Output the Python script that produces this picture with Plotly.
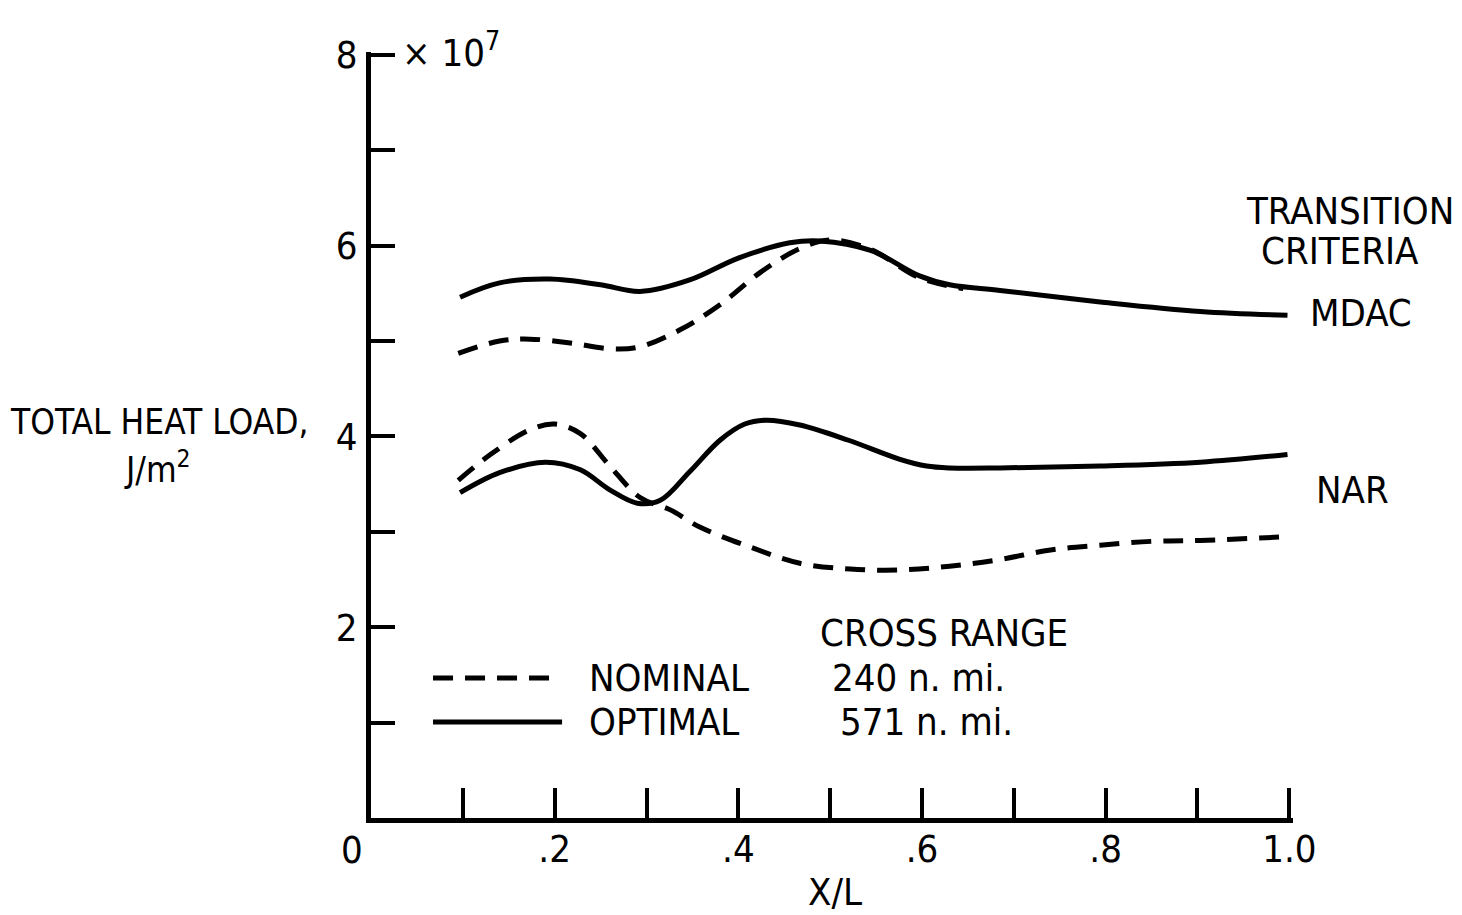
import plotly.graph_objects as go

# Values in units of 1e7 J/m^2
x_mdac_opt = [0.097, 0.14, 0.195, 0.25, 0.293, 0.347, 0.40, 0.456, 0.489, 0.544, 0.598, 0.63, 0.685, 0.794, 0.903, 0.998]
y_mdac_opt = [5.46, 5.61, 5.65, 5.59, 5.52, 5.64, 5.87, 6.03, 6.05, 5.95, 5.68, 5.59, 5.53, 5.41, 5.31, 5.27]

x_mdac_nom = [0.095, 0.14, 0.173, 0.217, 0.26, 0.293, 0.337, 0.38, 0.424, 0.467, 0.50, 0.544, 0.598, 0.645]
y_mdac_nom = [4.87, 5.00, 5.02, 4.98, 4.92, 4.94, 5.12, 5.38, 5.72, 5.97, 6.06, 5.96, 5.66, 5.55]

x_nar_opt = [0.097, 0.14, 0.19, 0.228, 0.26, 0.29, 0.315, 0.347, 0.38, 0.407, 0.43, 0.467, 0.52, 0.576, 0.605, 0.63, 0.685, 0.794, 0.903, 0.998]
y_nar_opt = [3.41, 3.62, 3.73, 3.65, 3.44, 3.30, 3.33, 3.63, 3.96, 4.13, 4.17, 4.12, 3.96, 3.76, 3.69, 3.67, 3.67, 3.69, 3.73, 3.81]

x_nar_nom = [0.095, 0.13, 0.173, 0.20, 0.228, 0.26, 0.293, 0.326, 0.358, 0.413, 0.467, 0.522, 0.576, 0.63, 0.685, 0.74, 0.794, 0.85, 0.903, 1.0]
y_nar_nom = [3.54, 3.81, 4.07, 4.13, 4.03, 3.69, 3.36, 3.23, 3.05, 2.84, 2.67, 2.61, 2.60, 2.64, 2.71, 2.81, 2.86, 2.90, 2.91, 2.95]

x_ticks = [0.2, 0.4, 0.6, 0.8, 1.0]
x_ticktext = [".2", ".4", ".6", ".8", "1.0"]
x_minor_ticks = [0.1, 0.3, 0.5, 0.7, 0.9]
y_ticks = [2, 4, 6, 8]
y_ticktext = ["2", "4", "6", "8"]
y_minor_ticks = [1, 3, 5, 7]

FONT = "DejaVu Sans Condensed, Liberation Sans Narrow, sans-serif"
LW = 5
DASH = "20px,12px"

# page geometry (body margin removed by post_script)
FW, FH = 1462, 915
X0PX, X1PX = 371, 1289      # pixel of x=0 and x=1
Y0PX, Y8PX = 818, 55        # pixel of y=0 and y=8
XMAX, YMAX = 1.004, 8.03    # tiny headroom so the end ticks are drawn
PL = X0PX
PR = X0PX + (X1PX - X0PX) * XMAX
PB = Y0PX
PT = Y0PX - (Y0PX - Y8PX) * YMAX / 8

fig = go.Figure()
for xs, ys, dash in [
    (x_mdac_opt, y_mdac_opt, "solid"),
    (x_mdac_nom, y_mdac_nom, DASH),
    (x_nar_opt, y_nar_opt, "solid"),
    (x_nar_nom, y_nar_nom, DASH),
]:
    fig.add_trace(go.Scatter(
        x=xs, y=ys, mode="lines",
        line=dict(color="black", width=LW, dash=dash, shape="spline", smoothing=1.0),
        showlegend=False, hoverinfo="skip",
    ))

fig.update_layout(
    width=FW, height=FH,
    margin=dict(l=PL, r=FW - PR, t=PT, b=FH - PB, pad=0),
    paper_bgcolor="white", plot_bgcolor="white",
    font=dict(family=FONT, size=38, color="black"),
    xaxis=dict(
        range=[0, XMAX], tickvals=x_ticks, ticktext=x_ticktext,
        ticks="inside", ticklen=30, tickwidth=4, tickcolor="black",
        minor=dict(tickvals=x_minor_ticks, ticks="inside", ticklen=30, tickwidth=4,
                   tickcolor="black", showgrid=False),
        showline=True, linewidth=LW, linecolor="black",
        showgrid=False, zeroline=False, tickfont=dict(size=38),
        ticklabelstandoff=-7,
    ),
    yaxis=dict(
        range=[0, YMAX], tickvals=y_ticks, ticktext=y_ticktext,
        ticks="inside", ticklen=24, tickwidth=4, tickcolor="black",
        minor=dict(tickvals=y_minor_ticks, ticks="inside", ticklen=24, tickwidth=4,
                   tickcolor="black", showgrid=False),
        showline=True, linewidth=LW, linecolor="black",
        showgrid=False, zeroline=False, tickfont=dict(size=38),
        ticklabelstandoff=1,
    ),
)

def px(xp, yp):
    return (xp - PL) / (PR - PL), (PB - yp) / (PB - PT)

ann = []
def add(text, xp, yp, xanchor="center", size=38):
    x, y = px(xp, yp)
    ann.append(dict(text=text, x=x, y=y, xref="paper", yref="paper", xanchor=xanchor,
                    yanchor="middle", showarrow=False,
                    font=dict(family=FONT, size=size, color="black")))

add("0", 352, 850)
add("X/L", 835, 892)
add("TOTAL HEAT LOAD,", 159, 422, size=35)
add("J/m<sup>2</sup>", 158, 467, size=35)
add("× 10<sup>7</sup>", 400, 50, xanchor="left")
add("TRANSITION", 1350, 211)
add("CRITERIA", 1340, 251)
add("MDAC", 1308, 313, xanchor="left")
add("NAR", 1314, 490, xanchor="left")
add("CROSS RANGE", 818, 633, xanchor="left")
add("NOMINAL", 587, 678, xanchor="left")
add("240 n. mi.", 830, 678, xanchor="left")
add("OPTIMAL", 587, 722, xanchor="left")
add("571 n. mi.", 838, 722, xanchor="left")
fig.update_layout(annotations=ann)

# legend key lines
lx0, ly1 = px(433, 678)
lx1, _ = px(557, 678)
lx2, ly2 = px(562, 722)
fig.add_shape(type="line", xref="paper", yref="paper", x0=lx0, x1=lx1, y0=ly1, y1=ly1,
              line=dict(color="black", width=LW, dash=DASH))
fig.add_shape(type="line", xref="paper", yref="paper", x0=lx0, x1=lx2, y0=ly2, y1=ly2,
              line=dict(color="black", width=LW))

fig.write_html("out.html",
               config={"displayModeBar": False},
               post_script="document.body.style.margin='0px';document.body.style.overflow='hidden';")
